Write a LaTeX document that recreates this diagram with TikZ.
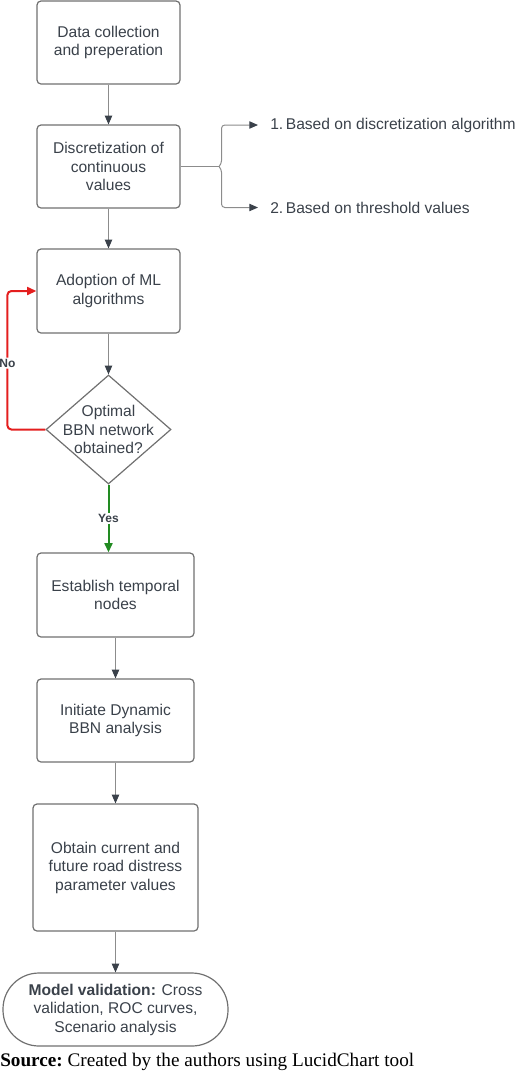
\documentclass[tikz,border=0pt]{standalone}
\usepackage{fontspec}
\setmainfont{Liberation Sans}
\newfontfamily\sourcefont{Liberation Serif}
\usetikzlibrary{shapes.geometric,arrows.meta}
\definecolor{chartink}{RGB}{58,65,74}
\definecolor{boxgray}{RGB}{112,112,112}
\definecolor{linkgray}{RGB}{140,140,140}
\definecolor{loopred}{RGB}{228,30,30}
\definecolor{passgreen}{RGB}{34,139,34}

\begin{document}
\begin{tikzpicture}[x=0.75pt, y=-0.75pt,
    boxfont/.style={font=\fontsize{11.7}{13.9}\selectfont},
    stepbox/.style={draw=boxgray, line width=0.9pt, rounded corners=3pt, align=center, text=chartink, boxfont},
    link/.style={draw=linkgray, line width=0.75pt, -{Triangle[length=6.5pt,width=5.5pt,color=chartink]}},
    decision/.style={line width=1.5pt, -{Triangle[length=7pt,width=6pt]}},
    tag/.style={fill=white, inner sep=1pt, text=chartink, font=\bfseries\fontsize{9}{11}\selectfont}]
    \useasboundingbox (0,0) rectangle (520,1082);

    % Upper chain
    \node[stepbox, minimum width=107.25pt, minimum height=62.25pt] (collect) at (108.5,42.5) {Data collection\\and preperation};
    \node[stepbox, minimum width=107.25pt, minimum height=62.25pt] (discret) at (108.5,166.5) {Discretization of\\continuous\\values};
    \node[stepbox, minimum width=107.25pt, minimum height=63pt] (adopt) at (108.5,291) {Adoption of ML\\algorithms};
    \node[draw=boxgray, line width=0.9pt, diamond, minimum width=93.75pt, minimum height=81.75pt, inner sep=0pt,
        label={[align=center, text=chartink, boxfont]center:Optimal\\BBN network\\obtained?}] (check) at (108.5,429.5) {};

    % Discretization options
    \coordinate (fork) at (219,166.5);
    \node[anchor=west, inner xsep=9pt, inner ysep=0pt, text=chartink, boxfont] (algo) at (258,125) {1.\,Based on discretization algorithm};
    \node[anchor=west, inner xsep=9pt, inner ysep=0pt, text=chartink, boxfont] (thresh) at (258,207.5) {2.\,Based on threshold values};

    % Lower chain
    \node[stepbox, minimum width=117.75pt, minimum height=63pt] (estab) at (115.5,595) {Establish temporal\\nodes};
    \node[stepbox, minimum width=117.75pt, minimum height=62.25pt] (initiate) at (115.5,720.5) {Initiate Dynamic\\BBN analysis};
    \node[stepbox, minimum width=123.75pt, minimum height=95.25pt] (obtain) at (115.5,867.5) {Obtain current and\\future road distress\\parameter values};
    \node[stepbox, rounded corners=27pt, minimum width=168.75pt, minimum height=54.75pt] (validate) at (115.5,1009.5) {\textbf{Model validation:} Cross\\validation, ROC curves,\\Scenario analysis};

    \node[anchor=west, inner sep=0pt, font=\sourcefont\fontsize{14.4}{17}\selectfont] (source) at (0,1062) {\frenchspacing\textbf{Source:} Created by the authors using LucidChart tool};

    % Connectors
    \draw[link] (collect) -- (discret);
    \draw[link] (discret) -- (adopt);
    \draw[link] (adopt) -- (check);
    \draw[draw=linkgray, line width=0.75pt] (discret.east) -- (fork);
    \draw[link, rounded corners=2.5pt] (fork) -- ++(2.5,-2.5) |- (algo.west);
    \draw[link, rounded corners=2.5pt] (fork) -- ++(2.5,2.5) |- (thresh.west);
    \draw[decision, loopred, rounded corners=3pt] (check.west) -- ++(-38,0) |- (adopt.west)
        node[tag, pos=0.24] {No};
    \draw[decision, passgreen] (check.south) -- (check.south |- estab.north)
        node[tag, midway] {Yes};
    \draw[link] (estab) -- (initiate);
    \draw[link] (initiate) -- (obtain);
    \draw[link] (obtain) -- (validate);
\end{tikzpicture}
\end{document}
